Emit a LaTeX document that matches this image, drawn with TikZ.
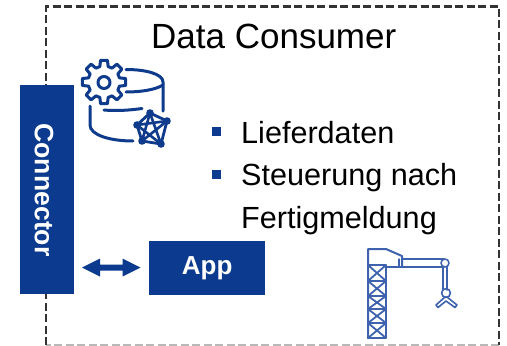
\documentclass[tikz,border=0pt]{standalone}
\usepackage{fontspec}
\setmainfont{Liberation Sans}
\definecolor{navy}{HTML}{0B3A8F}
\definecolor{icon}{HTML}{0F3B8C}
\definecolor{crane}{HTML}{3F62AE}
\tikzset{
  block/.style={fill=navy,draw=none,inner sep=0pt,text=white,font=\fontsize{26}{26}\selectfont\bfseries},
  label/.style={inner sep=0pt,anchor=base west,text=black,font=\fontsize{30.6}{30.6}\selectfont},
  bull/.style={fill=navy,draw=none,inner sep=0pt,minimum size=9pt},
  dbline/.style={draw=icon,line width=3pt,line cap=round,line join=round},
  craneline/.style={draw=crane,line width=1.6pt,line join=round,line cap=round},
  frameD/.style={draw=#1,line width=2.5pt,dash pattern=on 8pt off 3.5pt}
}
\begin{document}
\begin{tikzpicture}[x=1pt,y=-1pt]
\useasboundingbox (0,0) rectangle (507,346);
\fill[white] (0,0) rectangle (507,346);
% frame
\coordinate (tl) at (46,6.5);
\coordinate (tr) at (499,6.5);
\coordinate (br) at (499,345);
\coordinate (bl) at (46,345);
\draw[draw=black!28,line width=1.6pt,dash pattern=on 8pt off 3.5pt] (br) -- (bl);
\draw[frameD=black!80] (bl) -- (tl) -- (tr) -- (br);
% title
\node[inner sep=0pt,anchor=base west,font=\fontsize{35}{35}\selectfont] (title) at (151,48) {Data Consumer};
% blocks
\node[block,minimum width=54pt,minimum height=209pt,anchor=north west] (conn) at (20,85) {};
\node[block,rotate=-90,font=\fontsize{26.6}{26.6}\selectfont\bfseries] (connt) at (44,190) {Connector};
\node[block,minimum width=116pt,minimum height=54pt,anchor=north west] (app) at (149,241) {App};
% double arrow
\fill[navy] (82,267.5) -- (100,258.5) -- (100,264.5) -- (122.5,264.5) -- (122.5,258.5) -- (140.5,267.5) -- (122.5,276.5) -- (122.5,270.5) -- (100,270.5) -- (100,276.5) -- cycle;
% bullets
\node[bull] (b1) at (216,131.5) {};
\node[bull] (b2) at (216,174) {};
\node[label] (l1) at (241,143) {Lieferdaten};
\node[label] (l2) at (241,185) {Steuerung nach};
\node[label] (l3) at (241,228) {Fertigmeldung};
% database icon
\draw[dbline] (126,69.5) .. controls (146,69.5) and (163,74) .. (163,82) -- (163,111);
\draw[dbline] (126,92) .. controls (140,92) and (155,90) .. (163,85);
\draw[dbline] (90,106) -- (90,125) .. controls (90,135) and (110,141) .. (133,141);
\draw[dbline] (104,110) .. controls (115,111) and (128,110.5) .. (142,108.5);
% gear
\draw[dbline,shift={(104,82)}] (-9:22)
  \foreach \a in {0,45,...,315}{ -- ({\a-9}:22) -- ({\a+9}:22) -- ({\a+15}:16) -- ({\a+30}:16) } -- cycle;
\draw[dbline] (104,82.5) circle (6pt);
% star-net
\coordinate (n1) at (150,113);
\coordinate (n2) at (167,121);
\coordinate (n3) at (161,144);
\coordinate (n4) at (142,141);
\coordinate (n5) at (137,125);
\draw[dbline,line width=2.8pt] (n1)--(n2)--(n3)--(n4)--(n5)--cycle;
\draw[dbline,line width=2.6pt] (n1)--(n3) (n1)--(n4) (n5)--(n2) (n2)--(n4) (n5)--(n3);
\foreach \p in {n1,n2,n3,n4,n5}{\fill[icon] (\p) circle (3.8pt);}
% crane
\draw[craneline,line width=2pt] (368,338) -- (368,249) -- (386,249) -- (402,256) -- (402,266);
\draw[craneline,line width=2.4pt] (368,265) -- (368,338) -- (386,338) -- (386,265) -- cycle;
\draw[craneline,line width=2pt] (368,281) -- (386,281) (368,296) -- (386,296) (368,309) -- (386,309) (368,323) -- (386,323);
\foreach \ya/\yb in {265/281,281/296,296/309,309/323,323/338}{
  \draw[craneline,line width=1.8pt] (368,\ya) -- (386,\yb) (386,\ya) -- (368,\yb);
}
\draw[craneline,line width=1.2pt] (386,267) -- (444,267) (402,259) -- (444,259);
\draw[craneline,line width=1.4pt] (399,259) -- (399,266);
\draw[craneline] (445,263) circle (4pt);
\draw[craneline] (443,267) -- (443,290) (447,267) -- (447,290);
\draw[craneline] (446,293) circle (4.4pt);
\draw[craneline,line width=1.6pt] (445,297) -- (436,305) -- (438,307.5) -- (446,301) -- (455,307.5) -- (457,305) -- (447,297);
\end{tikzpicture}
\end{document}
